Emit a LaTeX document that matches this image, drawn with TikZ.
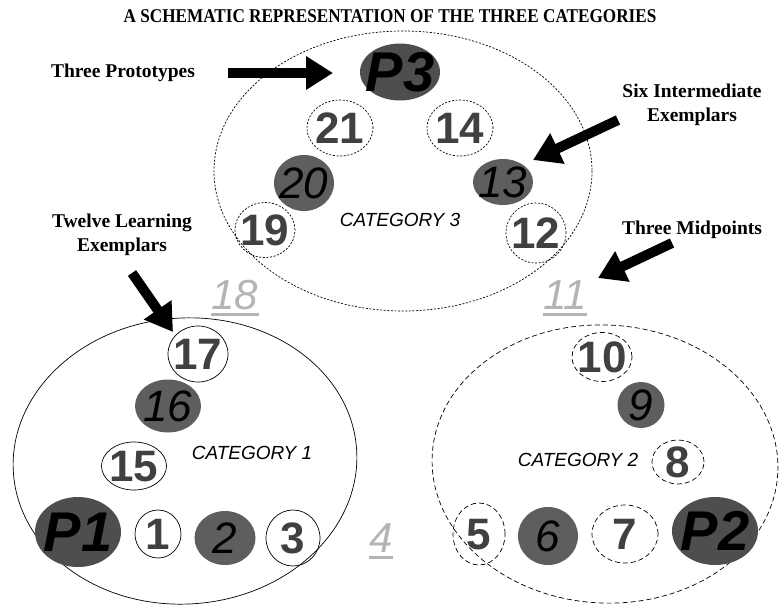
\documentclass[tikz,border=0pt]{standalone}
\usepackage{fontspec}
\setmainfont{Liberation Serif}
\setsansfont{Liberation Sans}
\usetikzlibrary{shapes.geometric,arrows.meta}

\definecolor{dotgray}{HTML}{5E5E5E}
\definecolor{protogray}{HTML}{4E4E4E}
\definecolor{numgray}{HTML}{404040}
\definecolor{midgray}{HTML}{B4B4B4}

% text of zero size, centred on the node
\newcommand{\ctr}[1]{\raisebox{-.5\height}[0pt][0pt]{\makebox[0pt]{#1}}}

\tikzset{
  dot/.style={ellipse, inner sep=0pt, outer sep=0pt, line width=0.7pt},
  wh/.style 2 args={minimum width=#1pt, minimum height=#2pt},
  fine/.style={dash pattern=on 2pt off 1.6pt},
  coarse/.style={dash pattern=on 5pt off 3pt},
  opendot/.style={dot, draw, text=numgray, font=\sffamily\bfseries\fontsize{44}{44}\selectfont},
  filldot/.style={dot, fill=dotgray, font=\sffamily\itshape\fontsize{44}{44}\selectfont},
  protodot/.style={dot, fill=protogray, font=\sffamily\bfseries\itshape\fontsize{56}{56}\selectfont},
  catname/.style={inner sep=0pt, font=\sffamily\itshape\fontsize{19}{19}\selectfont},
  tag/.style={inner sep=0pt, align=center, font=\bfseries\fontsize{19.5}{24}\selectfont},
  midnum/.style={text=midgray, inner sep=0pt, font=\sffamily\itshape\fontsize{42}{42}\selectfont},
  midline/.style={midgray, line width=3pt},
  fatarrow/.style={line width=10pt, -{Triangle[length=27pt,width=32pt]}},
}

\begin{document}
\begin{tikzpicture}[x=1pt,y=-1pt]
\useasboundingbox (0,0) rectangle (779,608);

\node[tag, anchor=base] (title) at (390,22) {\scalebox{0.88}[1]{A SCHEMATIC REPRESENTATION OF THE THREE CATEGORIES}};

% the three categories
\draw[line width=0.7pt, fine] (403,171) ellipse (189 and 140);
\draw[line width=0.7pt, rotate around={4:(185,461)}] (185,461) ellipse (172 and 143);
\draw[line width=0.7pt, coarse, rotate around={-3:(605,464)}] (605,464) ellipse (173 and 139);

% category 3
\node[protodot, wh={80}{57}] (p3) at (400,72) {\ctr{P3}};
\node[opendot, fine, wh={66}{56}] (c21) at (340,128) {\ctr{21}};
\node[opendot, fine, wh={66}{56}] (c14) at (460,128) {\ctr{14}};
\node[filldot, wh={60}{56}] (c20) at (304,183) {\ctr{20}};
\node[filldot, wh={60}{46}] (c13) at (503,182) {\ctr{13}};
\node[opendot, fine, wh={60}{55}] (c19) at (265,230) {\ctr{19}};
\node[opendot, fine, wh={60}{60}] (c12) at (536,233) {\ctr{12}};
\node[catname] (cat3) at (400,220) {CATEGORY 3};

% category 1
\node[opendot, wh={60}{56}] (c17) at (198,354) {\ctr{17}};
\node[filldot, wh={66}{53}] (c16) at (168,406) {\ctr{16}};
\node[opendot, wh={65}{48}] (c15) at (134,466) {\ctr{15}};
\node[protodot, wh={86}{70}] (p1) at (78,532) {\ctr{P1}};
\node[opendot, wh={46}{48}] (c1) at (158,534) {\ctr{1}};
\node[filldot, wh={61}{54}] (c2) at (225,538) {\ctr{2}};
\node[opendot, wh={54}{56}] (c3) at (293,538) {\ctr{3}};
\node[catname] (cat1) at (252,453) {CATEGORY 1};

% category 2
\node[opendot, coarse, wh={60}{49}] (c10) at (602,357) {\ctr{10}};
\node[filldot, wh={47}{46}] (c9) at (641,405) {\ctr{9}};
\node[opendot, coarse, wh={52}{44}] (c8) at (678,462) {\ctr{8}};
\node[opendot, coarse, wh={52}{62}] (c5) at (479,534) {\ctr{5}};
\node[filldot, wh={60}{58}] (c6) at (548,536) {\ctr{6}};
\node[opendot, coarse, wh={66}{58}] (c7) at (625,534) {\ctr{7}};
\node[protodot, wh={86}{68}] (p2) at (715,531) {\ctr{P2}};
\node[catname] (cat2) at (578,460) {CATEGORY 2};

% midpoints
\node[midnum] (m18) at (235,295) {18};
\node[midnum] (m11) at (565,295) {11};
\node[midnum] (m4) at (381,538) {4};
\draw[midline] ([yshift=-5pt]m18.base west) -- ([yshift=-5pt]m18.base east);
\draw[midline] ([yshift=-5pt]m11.base west) -- ([yshift=-5pt]m11.base east);
\draw[midline] ([yshift=-5pt]m4.base west) -- ([yshift=-5pt]m4.base east);

% labels and arrows
\node[tag, anchor=base] (protos) at (123,77) {Three Prototypes};
\node[tag] (inter) at (692,105) {Six Intermediate\\Exemplars};
\node[tag] (learn) at (122,235) {Twelve Learning\\Exemplars};
\node[tag, anchor=base] (mids) at (692,234) {Three Midpoints};

\coordinate (protoTail) at (228,73);
\coordinate (protoTip) at (333,73);
\coordinate (interTail) at (618,120);
\coordinate (interTip) at (533,160);
\coordinate (learnTail) at (132,273);
\coordinate (learnTip) at (173,332);
\coordinate (midTail) at (672,243);
\coordinate (midTip) at (598,278);
\draw[fatarrow] (protoTail) -- (protoTip);
\draw[fatarrow] (interTail) -- (interTip);
\draw[fatarrow] (learnTail) -- (learnTip);
\draw[fatarrow] (midTail) -- (midTip);
\end{tikzpicture}
\end{document}
